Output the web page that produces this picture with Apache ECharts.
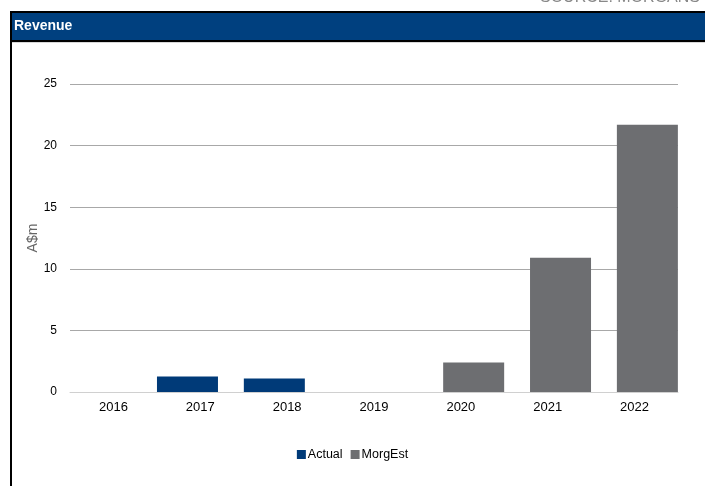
<!DOCTYPE html>
<html><head><meta charset="utf-8">
<script src="https://cdn.jsdelivr.net/npm/echarts@6/dist/echarts.min.js"></script>
<style>html,body{margin:0;padding:0;background:#fff}#c{width:705px;height:486px}</style>
</head><body><div id="c"></div>
<script>
var categories = ['2016','2017','2018','2019','2020','2021','2022'];
var actual = [null, 1.25, 1.1, null, null, null, null];
var morgEst = [null, null, null, null, 2.4, 10.9, 21.7];
var yTicks = [0, 5, 10, 15, 20, 25];

var chart = echarts.init(document.getElementById('c'));
chart.setOption({
  animation: false,
  textStyle: {fontFamily: 'Liberation Sans, Arial, sans-serif'},
  graphic: [
    {type: 'text', right: 5, top: -10, style: {text: 'SOURCE: MORGANS', fill: '#888', font: '16px Liberation Sans, Arial', textAlign: 'right'}},
    {type: 'rect', shape: {x: 11, y: 12, width: 700, height: 29}, style: {fill: '#00407F', stroke: '#000', lineWidth: 2}},
    {type: 'line', shape: {x1: 11, y1: 42.5, x2: 705, y2: 42.5}, style: {stroke: '#d8d8d8', lineWidth: 1}},
    {type: 'line', shape: {x1: 11, y1: 12, x2: 11, y2: 486}, style: {stroke: '#000', lineWidth: 2}},
    {type: 'text', left: 14, top: 19, style: {text: 'Revenue', fill: '#fff', font: 'bold 14px Liberation Sans, Arial'}}
  ],
  grid: {left: 70, right: 27, top: 84, bottom: 94, containLabel: false},
  legend: {
    bottom: 20, left: 'center', itemWidth: 9, itemHeight: 9, itemGap: 8,
    textStyle: {fontSize: 12.5, color: '#000', padding: [0,0,0,-3]},
    icon: 'rect',
    data: ['Actual', 'MorgEst']
  },
  xAxis: {
    type: 'category', data: categories,
    axisLine: {lineStyle: {color: '#d0d0d0'}},
    axisTick: {show: false},
    axisLabel: {color: '#000', fontSize: 13, margin: 9}
  },
  yAxis: {
    type: 'value', min: 0, max: 25, interval: 5,
    name: 'A$m', nameLocation: 'middle', nameGap: 30, nameRotate: 90,
    nameMoveOverlap: false,
    nameTextStyle: {color: '#666', fontSize: 14},
    axisLine: {show: false}, axisTick: {show: false},
    axisLabel: {color: '#000', fontSize: 12, margin: 13},
    splitLine: {lineStyle: {color: '#a8a8a8'}}
  },
  series: [
    {name: 'Actual', type: 'bar', data: actual, barWidth: 61, barGap: '-58%', itemStyle: {color: '#003A78'}},
    {name: 'MorgEst', type: 'bar', data: morgEst, barWidth: 61, barGap: '-58%', itemStyle: {color: '#6D6E71'}}
  ]
});
</script></body></html>
